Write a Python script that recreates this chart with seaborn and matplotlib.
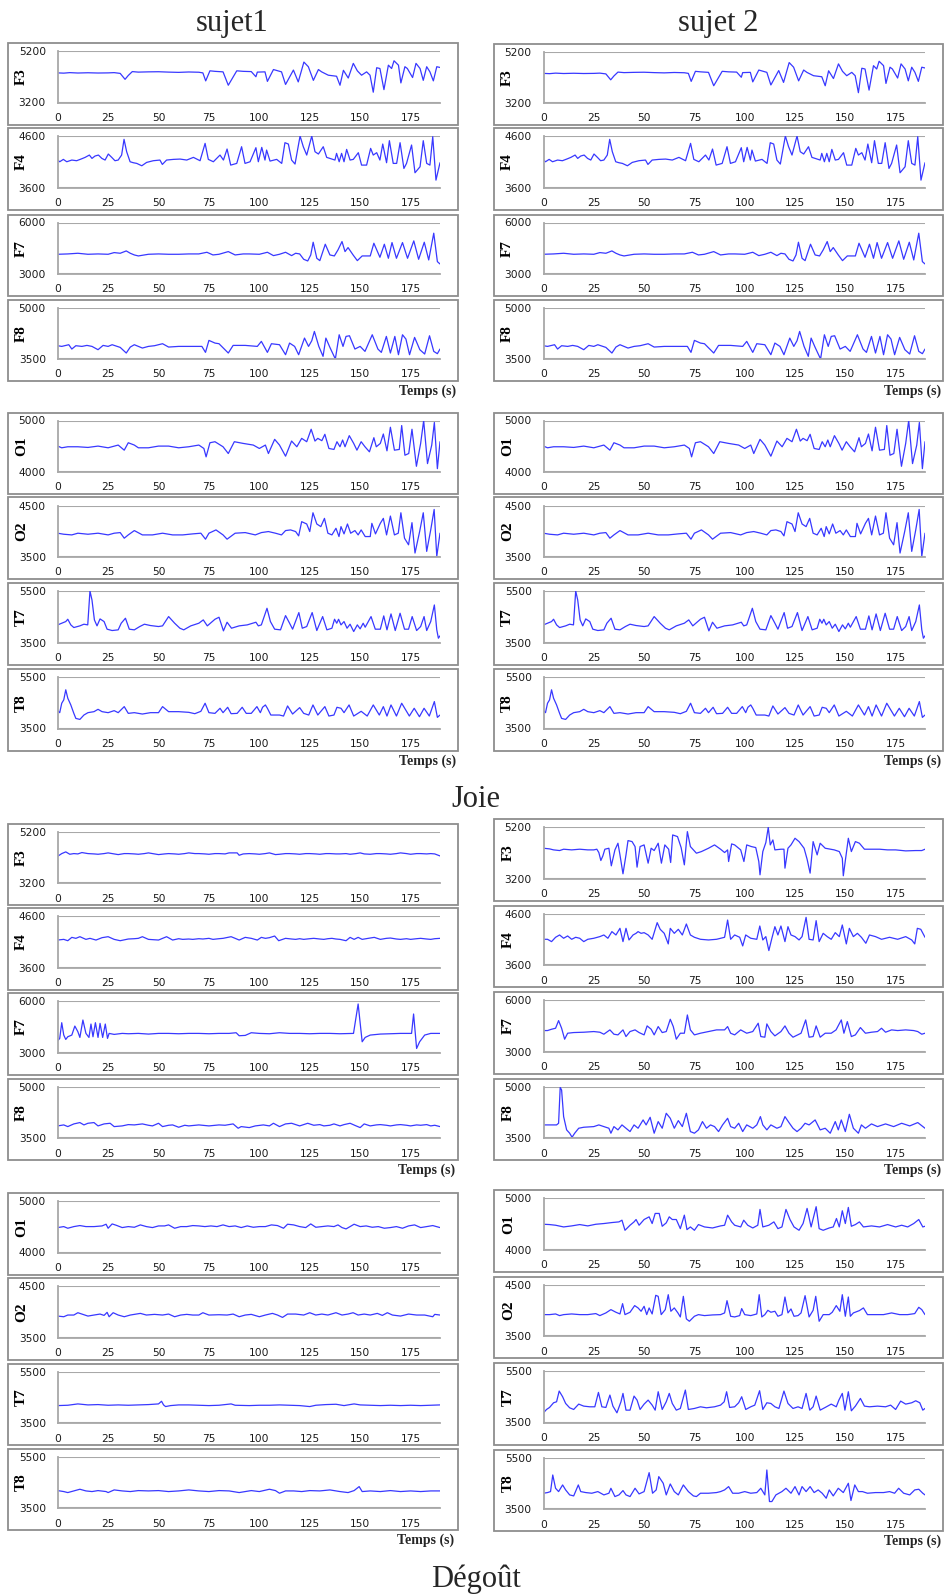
import matplotlib
matplotlib.use("Agg")
import matplotlib.pyplot as plt
from matplotlib.patches import Rectangle
import seaborn as sns

sns.set_style("white")
plt.rcParams["font.family"] = ["DejaVu Sans"]

W, H = 947, 1596
LINE = "#3838ff"
GRAY = "#a8a8a8"
BOX = "#8e8e8e"
TXT = "#1a1a1a"
SERIF = ["Liberation Serif", "DejaVu Serif"]

CHANNELS = ["F3", "F4", "F7", "F8", "O1", "O2", "T7", "T8"]
YLIMS = {"F3": (3200, 5200), "F4": (3600, 4600), "F7": (3000, 6000), "F8": (3500, 5000),
         "O1": (4000, 5000), "O2": (3500, 4500), "T7": (3500, 5500), "T8": (3500, 5500)}
XTICKS = [0, 25, 50, 75, 100, 125, 150, 175]
XMAX = 189.6

# ---- Joie (same traces shown for sujet1 and sujet 2) : (time s, value) ----
joie_f3 = [(0,4350),(3,4340),(6,4360),(10,4345),(15,4355),(20,4345),(25,4350),(28,4360),(31,4330),(33.4,4100),(35,4250),(37,4400),(40,4380),(45,4390),(50,4395),(55,4380),(60,4370),(65,4385),(70,4375),(72,4350),(73.4,4040),(75.5,4430),(78,4410),(82,4390),(84.6,3870),(88.8,4430),(92,4410),(96,4400),(98.3,4200),(99,4380),(102.8,4390),(104,4020),(107,4480),(111,4390),(113,3900),(116.9,4460),(119.3,4000),(122.1,4770),(124.3,4590),(126.8,4060),(129.3,4480),(130.9,4390),(134.2,4260),(138.3,4220),(140,3870),(141.7,4450),(144.1,4150),(146.6,4720),(148.6,4430),(150.7,4260),(153.2,4390),(154.9,4260),(156.5,3600),(158.2,4550),(159.8,4520),(161.8,3700),(164,4650),(165.6,4520),(166.8,4820),(169,4650),(170.2,3960),(172.2,4590),(173.4,4520),(176,4170),(177.7,4720),(179.7,4520),(181.3,4060),(183,4590),(184.6,4390),(186.3,4040),(188,4590),(189.6,4560)]
joie_f4 = [(0,4133),(1,4100),(2.8,4146),(4.5,4100),(7,4133),(9.4,4120),(12,4159),(13.6,4185),(15.7,4230),(17,4165),(18.5,4211),(20.2,4230),(21.9,4165),(23.5,4133),(25.1,4250),(26.8,4185),(28.4,4120),(30,4133),(31.7,4230),(32.9,4535),(34.2,4295),(35.9,4100),(37.5,4081),(39.2,4068),(41.7,4022),(44.1,4087),(47.4,4120),(50.7,4133),(51.9,4048),(54,4133),(57.4,4146),(60.7,4152),(64,4133),(67.3,4185),(70.6,4120),(73.1,4457),(74.7,4146),(77.2,4100),(80.5,4230),(82.2,4133),(84,4347),(85.8,4035),(88.8,4068),(91.2,4392),(92.9,4068),(95.4,4100),(98.3,4373),(99.5,4100),(101.2,4379),(102.8,4133),(103.6,4327),(105.3,4113),(108.6,4146),(111.1,4068),(112.7,4470),(114.4,4444),(116,4133),(117.7,4055),(120.2,4600),(121.8,4392),(123.5,4230),(126,4600),(127.6,4295),(129.3,4250),(131.7,4392),(133.4,4185),(135,4165),(137.5,4133),(138.3,4263),(139.6,4100),(140.8,4263),(142,4100),(143.3,4340),(145,4133),(146.6,4146),(149.1,4276),(150.7,4035),(153.2,4035),(155.2,4360),(156.5,4230),(158.2,4276),(159.8,4133),(161.2,4444),(163.1,4081),(164.5,4509),(166.4,4068),(168.1,4068),(169.8,4470),(171.7,3970),(173,4068),(175.5,4425),(177.2,3886),(179.7,4003),(181.3,4509),(183,4068),(184.6,4035),(186,4587),(187.6,3743),(189.6,4081)]
joie_f7 = [(0,4149),(5,4169),(10,4208),(15,4149),(20,4169),(25,4149),(28,4247),(31,4208),(34,4344),(36,4208),(38,4110),(40,4052),(45,4149),(50,4169),(55,4149),(60,4149),(65,4169),(70,4169),(74,4266),(77,4110),(80,4149),(84.6,4305),(88,4110),(92,4169),(95,4169),(100,4149),(104,4266),(107,4071),(110,4149),(113,4266),(116,4071),(118,4208),(120,4169),(122,3857),(124,3760),(125.5,4110),(126.7,4851),(128.5,3916),(130,3779),(132.7,4734),(135,4110),(137.2,4052),(139,4403),(141,4890),(142.5,4305),(144,4539),(146.5,4110),(148.6,3779),(151,4052),(155,4052),(156.8,4792),(159.8,3974),(162,4734),(164,3916),(165.8,4831),(168,3916),(171,4831),(173.5,3916),(176.6,4929),(179,3857),(181.8,4851),(184,3818),(186.5,5377),(188.3,3721),(189.6,3584)]
joie_f8 = [(0,3887),(2,3867),(5.5,3916),(7,3790),(9,3887),(12,3867),(14.5,3896),(17,3867),(20,3771),(22.5,3896),(25,3867),(27,3916),(31,3838),(34,3674),(36,3848),(38,3916),(42,3819),(45,3867),(48,3887),(52,3945),(55,3848),(60,3867),(65,3867),(71.5,3867),(73.3,3693),(75,4042),(78,3964),(80,3945),(84.6,3674),(87,3896),(93,3896),(99,3867),(101,4013),(104,3693),(106,3945),(110,3916),(113,3625),(115,3964),(117.5,3867),(119.5,3625),(122.4,4109),(124.4,3867),(126,4032),(127.3,4303),(129.5,3867),(131.6,3577),(133,4109),(135,3838),(137.7,3500),(139.6,4206),(141.5,3867),(143,4158),(144.7,4177),(147.4,3790),(150,3867),(152.4,3722),(156,4206),(158.8,3790),(160.5,3693),(163,4158),(165,3674),(167.2,4158),(169,3625),(171,4206),(172.7,4080),(174.5,3625),(177,4129),(179.6,3771),(182,3645),(184.4,4177),(186.5,3722),(188.3,3655),(189.6,3790)]
joie_o1 = [(0,4503),(2,4470),(5,4490),(10,4490),(15,4477),(20,4503),(25,4470),(30,4523),(33,4424),(35,4568),(38,4523),(40,4470),(45,4470),(50,4503),(55,4503),(60,4470),(65,4490),(70,4523),(72.5,4457),(73.6,4294),(75.5,4568),(78,4588),(82,4490),(84.6,4359),(87.6,4588),(92,4555),(97,4523),(100,4457),(103,4523),(104.5,4359),(107.6,4634),(110,4523),(113,4307),(116,4601),(118.6,4490),(121,4653),(123.5,4588),(125.7,4830),(127.6,4601),(129,4653),(131,4608),(132.5,4732),(134.5,4457),(137,4438),(138.5,4588),(140,4490),(141.3,4621),(142.5,4490),(144.6,4706),(146.8,4555),(148.4,4424),(150.5,4588),(152.4,4490),(154.6,4392),(156.8,4666),(158,4490),(160,4555),(161.5,4738),(163.3,4411),(165,4869),(167,4424),(169.4,4438),(170.6,4902),(172.2,4326),(174.1,4359),(175.7,4830),(177.9,4111),(180,4555),(181.5,5000),(183.4,4163),(185.5,4523),(186.8,4961),(188.3,4065),(189.6,4588)]
joie_o2 = [(0,3962),(3,3942),(7,3929),(10,3962),(15,3942),(20,3962),(25,3929),(28,3962),(31,3974),(33,3865),(35,3929),(38,4013),(42,3929),(47,3929),(52,3962),(57,3929),(62,3929),(67,3949),(71,3962),(73.3,3846),(75,3962),(78.5,4026),(82,3929),(84,3846),(88,3962),(93,3974),(98,3929),(101,3974),(104.5,3994),(108,3962),(111,3929),(113,4013),(115.5,4026),(118,3994),(119.5,3910),(121,4186),(123.5,4141),(125,3994),(126.6,4359),(128.5,4141),(130.5,4090),(132.3,4250),(134,3962),(136,3929),(138,4058),(139.5,3897),(140.5,4090),(142,3949),(143.7,4141),(145.3,3962),(147.4,4013),(149,3929),(150.5,4026),(152.5,3897),(155,3897),(155.8,4154),(157.6,3949),(160,4154),(161.5,4250),(163.1,3929),(165,4295),(167,3929),(168.9,3962),(170.2,4359),(172,3865),(174,3737),(175.7,4167),(177.2,3577),(179.5,3994),(181.3,4359),(183,3609),(185,4026),(186.7,4423),(188,3513),(189.6,3962)]
joie_t7 = [(0,4184),(2,4249),(4,4313),(5,4403),(6.5,4184),(8,4081),(11,4146),(13,4210),(14.9,4184),(16,5500),(17,5152),(18.2,4378),(19.5,4146),(21,4416),(23,4313),(24.5,4017),(27,3965),(30,3991),(31.5,4249),(33.6,4442),(35.5,4017),(38,3991),(40.7,4120),(43,4210),(46,4159),(50,4120),(52,4146),(55,4507),(58,4249),(60.6,4055),(62.5,3991),(66,4146),(70,4249),(72.2,4378),(74.2,4146),(78,4403),(80,4481),(82.2,3952),(84,4287),(86.2,4055),(90,4146),(94,4184),(98.3,4287),(99.5,4146),(101,4184),(103.8,4829),(105.5,4313),(107.6,4017),(110.5,3991),(113,4545),(115,4249),(116.5,4017),(119.6,4662),(121.3,4055),(123.5,4120),(126.2,4662),(128.5,3965),(131.4,4507),(133.5,3991),(136,4055),(137.3,4403),(138.4,4249),(139.3,4403),(140.5,4184),(142,4313),(143.5,4055),(145,4210),(146.8,3926),(148.6,4184),(150,4030),(151.5,4249),(152.5,4094),(155.4,4507),(157.5,4017),(160,4017),(161.7,4533),(163.3,3991),(165.3,4610),(167.4,3965),(169.8,4636),(172,4017),(174,4017),(175.8,4507),(178,3965),(180,4120),(181.7,4507),(183,3965),(185,4313),(186.8,4958),(188,3991),(188.8,3668),(189.6,3759)]
joie_t8 = [(0,4193),(1,4115),(2,4481),(3,4611),(4,5003),(5,4677),(6.5,4415),(8,4088),(9,3892),(11,3853),(13,4023),(15,4115),(18,4154),(20,4245),(22,4154),(25,4115),(28,4193),(30,4115),(33,4350),(35,4088),(38,4115),(42,4062),(46,4115),(50,4115),(52,4350),(55,4154),(60,4154),(65,4128),(68,4075),(71,4167),(73.1,4481),(75,4115),(78,4088),(80.5,4285),(82,4115),(84.3,4324),(86,4075),(89,4088),(91.5,4324),(93.5,4088),(96,4088),(98.8,4350),(100.5,4115),(101.6,4324),(103,4415),(104,4285),(105.7,4023),(110,4023),(112,3984),(114,4376),(116.5,4062),(120,4311),(122,4088),(124.5,4023),(126.6,4415),(129,4023),(132.5,4350),(134.5,3984),(137,4023),(138.5,4324),(140.5,4285),(142,4115),(144.5,4415),(146.8,3984),(150.5,4167),(153.5,3984),(156.5,4415),(159.5,4023),(161.5,4350),(163.3,3984),(165.3,4415),(168,3984),(170.6,4481),(173,4167),(174.4,3984),(176.8,4285),(179.4,3958),(181.7,4285),(184.3,3984),(186.8,4546),(188.3,3932),(189.6,4023)]

# ---- Dégoût, sujet1 ----
deg1_f3 = [(0,4246),(2,4350),(4,4416),(6,4324),(8,4350),(10,4337),(12,4390),(15,4350),(18,4337),(20,4324),(23,4350),(25,4377),(28,4337),(30,4311),(33,4350),(35,4350),(38,4337),(40,4324),(43,4350),(45,4377),(48,4337),(50,4311),(53,4337),(55,4350),(58,4337),(60,4324),(63,4350),(65,4377),(68,4350),(70,4350),(73,4337),(75,4324),(78,4350),(80,4350),(83,4337),(85,4377),(89,4377),(90,4285),(92,4337),(95,4350),(98,4337),(100,4324),(103,4350),(105,4377),(108,4311),(110,4324),(113,4350),(115,4350),(118,4337),(120,4324),(123,4350),(125,4350),(128,4337),(130,4324),(133,4350),(135,4350),(138,4337),(140,4337),(143,4350),(145,4324),(148,4350),(150,4377),(152,4337),(155,4324),(158,4350),(160,4350),(163,4337),(165,4324),(168,4350),(170,4377),(173,4350),(175,4324),(178,4350),(180,4350),(183,4337),(185,4350),(187,4337),(189.6,4259)]
deg1_f4 = [(0,4139),(3,4152),(5,4126),(7,4191),(9,4172),(11,4204),(14,4152),(16,4172),(19,4139),(22,4185),(25,4204),(28,4152),(31,4126),(35,4159),(38,4165),(40,4172),(42,4204),(45,4152),(50,4139),(54,4204),(57,4139),(60,4165),(62,4152),(65,4159),(67,4152),(70,4165),(72,4159),(75,4172),(77,4152),(80,4165),(82,4172),(86,4204),(88,4172),(90,4139),(93,4191),(96,4172),(99,4139),(101,4191),(103,4172),(105,4185),(107.6,4217),(109.6,4126),(113,4172),(116,4159),(118,4152),(120,4165),(122,4152),(125,4165),(127,4172),(130,4159),(132,4152),(134,4165),(136,4172),(138,4159),(140,4152),(143,4126),(145,4191),(147,4152),(149,4191),(151,4152),(154,4172),(157,4191),(160,4152),(163,4172),(165,4178),(168,4159),(170,4152),(173,4165),(175,4152),(178,4165),(180,4172),(183,4159),(185,4152),(187,4165),(189.6,4172)]
deg1_f7 = [(0,3701),(1,3838),(2,4753),(3,4033),(4,3779),(5,3935),(7,4033),(8.5,4558),(10,4228),(11,3896),(12.5,4909),(14,4130),(15.5,3896),(16.5,4675),(17.5,3935),(18.7,4753),(20,3896),(21,4714),(22.3,3896),(23.6,4675),(24.7,3838),(25.5,4130),(28,4072),(32,4130),(35,4110),(40,4130),(45,4091),(50,4130),(55,4130),(60,4110),(65,4130),(70,4130),(75,4110),(80,4130),(85,4130),(88.5,4169),(90,3994),(93,4013),(96,4169),(100,4130),(105,4110),(110,4169),(115,4130),(120,4130),(125,4110),(130,4130),(135,4130),(140,4110),(146.7,4130),(148,5104),(149,5844),(151,3643),(152.5,3896),(155,4033),(160,4091),(165,4110),(170,4130),(175.5,4130),(176.5,5260),(178,3253),(179.5,3643),(182,4033),(185,4130),(189.6,4130)]
deg1_f8 = [(0,3858),(3,3887),(5,3838),(8,3916),(11,3955),(13,3887),(15,3935),(18,3955),(20,3858),(23,3916),(26,3935),(28,3838),(32,3858),(35,3896),(38,3887),(42,3916),(45,3877),(47,3858),(50,3935),(52,3838),(55,3877),(57,3887),(60,3819),(63,3877),(65,3858),(70,3887),(75,3858),(80,3887),(83,3877),(87,3916),(89.5,3790),(91,3838),(95,3809),(98,3858),(102,3887),(105,3858),(107,3935),(110,3838),(113,3916),(116,3935),(120,3858),(124,3935),(127,3877),(130,3896),(132,3858),(135,3877),(137,3916),(140,3858),(142,3896),(145,3935),(148,3858),(150,3809),(152,3916),(155,3858),(158,3887),(160,3896),(163,3877),(165,3858),(168,3887),(170,3896),(173,3877),(175,3858),(178,3887),(180,3877),(183,3896),(185,3858),(187,3877),(189.6,3838)]
deg1_o1 = [(0,4484),(3,4503),(5,4471),(8,4503),(11,4523),(14,4503),(18,4503),(22,4516),(24,4549),(25,4471),(27,4555),(29,4529),(32,4484),(35,4503),(38,4490),(41,4536),(44,4503),(47,4484),(50,4516),(53,4516),(55,4536),(58,4471),(61,4503),(64,4503),(67,4523),(70,4516),(73,4503),(76,4516),(79,4503),(82,4536),(85,4503),(88,4516),(91,4484),(94,4516),(97,4490),(100,4503),(103,4503),(106,4536),(109,4523),(112,4471),(114,4549),(117,4536),(120,4503),(123,4484),(125.5,4555),(128,4490),(131,4503),(134,4516),(137,4503),(139,4536),(141,4484),(143,4458),(145,4503),(147,4549),(150,4503),(153,4516),(156,4490),(159,4503),(162,4471),(165,4484),(168,4503),(171,4471),(174,4516),(177,4536),(180,4484),(183,4503),(186,4523),(189.6,4484)]
deg1_o2 = [(0,3922),(3,3909),(5,3942),(8,3942),(10,3987),(12,3961),(15,3922),(18,3942),(21,3961),(23,3935),(24.5,3994),(25.5,3909),(27.5,3987),(30,3942),(33,3909),(36,3942),(41,3974),(44,3942),(48,3955),(52,3942),(55,3961),(58,3909),(61,3942),(64,3955),(67,3942),(70,3942),(72,3987),(75,3942),(80,3948),(84,3942),(87,3961),(90,3909),(93,3942),(96,3955),(100,3909),(103,3942),(106.5,3974),(109,3942),(111.5,3896),(114,3961),(118,3961),(122,3942),(125,3987),(128,3942),(131,3961),(134,3942),(138,3987),(141,3942),(144,3961),(146.5,3987),(149,3942),(152,3961),(155,3942),(158.5,3974),(161,3935),(163.5,3987),(166,3942),(170,3922),(174,3961),(178,3942),(182,3942),(186,3909),(187,3955),(189.6,3942)]
deg1_t7 = [(0,4184),(5,4197),(10,4249),(15,4210),(20,4223),(25,4197),(30,4210),(35,4197),(40,4210),(45,4223),(50,4249),(51.5,4352),(52.5,4210),(53.5,4146),(56,4184),(60,4210),(65,4210),(70,4197),(75,4184),(80,4197),(86,4249),(88,4197),(95,4184),(100,4197),(105,4197),(110,4210),(115,4197),(120,4184),(125,4146),(128,4197),(133,4223),(138,4236),(142,4184),(147,4249),(150,4210),(155,4197),(160,4184),(165,4197),(170,4184),(175,4197),(180,4184),(185,4197),(189.6,4210)]
deg1_t8 = [(0,4184),(3,4146),(5,4107),(8,4171),(11,4236),(14,4171),(17,4146),(20,4184),(24,4146),(25,4107),(28,4210),(32,4171),(36,4146),(40,4184),(45,4171),(50,4184),(55,4146),(60,4171),(65,4210),(70,4171),(75,4146),(80,4184),(85,4171),(90,4107),(93,4146),(96,4184),(100,4146),(105,4236),(108,4184),(110,4081),(113,4171),(117,4171),(121,4146),(125,4184),(130,4171),(135,4210),(140,4146),(144,4107),(147,4184),(149.5,4339),(151,4146),(155,4171),(160,4146),(165,4184),(170,4146),(175,4171),(180,4146),(185,4171),(189.6,4171)]

# ---- Dégoût, sujet 2 ----
deg2_f3 = [(0,4387),(3,4362),(5,4323),(8,4297),(10,4349),(14,4323),(18,4349),(22,4323),(25,4323),(26.5,4349),(27.5,4220),(28.5,3910),(29.5,4091),(30.5,4349),(32.5,4387),(33.7,3704),(35.5,4323),(37,4581),(38,4129),(39.5,3394),(41,4129),(42,4684),(44,4645),(45.5,4452),(46.5,3652),(48,4452),(50,4516),(52,3807),(53.5,4387),(55,4297),(57,4581),(58.6,3807),(60.3,4516),(62.2,4349),(63.2,3833),(64.2,4903),(66.6,4839),(68.4,4413),(70,3742),(71.5,5032),(73,4452),(76,4194),(78.5,4258),(82,4387),(85,4516),(88,4349),(90,4220),(91.5,4323),(92,3871),(93.5,4555),(95,4516),(98,4323),(99.6,3871),(101,4516),(103.3,4452),(105.5,4413),(107,3871),(107.6,3355),(109,4258),(110.5,4607),(111.7,5200),(112.7,4516),(114,4710),(115,4323),(118,4349),(119.5,4349),(120,3613),(121.5,4387),(123,4516),(125,4774),(127,4645),(129.5,4387),(131,3962),(132.5,3420),(134,4645),(136,4129),(137.5,4581),(140,4387),(144.5,4323),(147,4258),(148.5,4000),(149,3317),(150.5,4194),(151.5,4774),(153,4258),(155,4645),(157,4581),(159.5,4349),(163,4349),(167,4349),(171,4323),(175,4323),(180,4284),(185,4297),(188,4297),(189.6,4349)]
deg2_f4 = [(0,4103),(2,4103),(4,4058),(6,4142),(8,4187),(10,4123),(12,4168),(14,4103),(16,4142),(18,4123),(20,4058),(22,4103),(25,4123),(28,4155),(30,4187),(32,4123),(34,4252),(36,4187),(38,4316),(39.5,4058),(41,4316),(42.5,4090),(44.5,4187),(46,4219),(47,4252),(48.5,4219),(50,4232),(52,4187),(54,4103),(56.5,4426),(58,4297),(60,4219),(62,4013),(63,4316),(65,4219),(67,4297),(69,4187),(71,4400),(73,4187),(75,4142),(78,4103),(82,4090),(86,4103),(90,4142),(91.5,4477),(93,4103),(95,4187),(97.5,4142),(99,3974),(100.5,4187),(103,4123),(106,4103),(107.5,4361),(109,4090),(110.5,4155),(112,3884),(113.5,4123),(115,4348),(116.5,4187),(118,4361),(120,4058),(121.5,4348),(123,4187),(125,4155),(127,4090),(128.5,4155),(130.5,4529),(132,4103),(134,4090),(135.5,4465),(137,4058),(139,4219),(141,4155),(143,4103),(145,4232),(147,4155),(148.5,4381),(150.5,4013),(152,4316),(154,4155),(156,4219),(158,4142),(160.2,4026),(162,4187),(165,4155),(168,4103),(172,4142),(176,4103),(180,4155),(183,4090),(184.5,4013),(185.8,4316),(187.5,4297),(189.6,4142)]
deg2_f7 = [(0,4220),(2,4220),(4,4297),(6,4355),(7.5,4800),(9,4355),(10.5,3717),(12,4065),(15,4104),(20,4123),(25,4162),(28,4123),(30,4007),(33,4259),(35,4007),(37,3968),(39.5,4259),(41,3871),(43,4162),(45.5,4259),(47.5,4104),(50,3968),(51.5,4491),(53.5,4297),(55,3968),(57,4452),(59,4104),(61,4162),(63,4878),(64.5,4452),(66,3717),(68,4065),(70,4065),(71.5,5129),(73,4259),(75,3968),(78,4065),(82,4162),(86,4259),(90,4259),(91.5,4452),(93,4065),(95,3968),(98,4259),(101,4065),(104,4162),(106.7,4646),(108,3871),(110,3833),(111,4607),(113,4162),(115,3910),(118,4162),(120,4491),(122,4065),(124,3833),(128,4065),(130.3,4839),(132,3833),(134,3871),(135.5,4491),(137.5,3833),(140,4065),(143,4065),(145.4,4259),(148,4839),(149.3,4065),(151,4742),(153,3871),(155,3968),(157.5,4394),(160,4065),(163,4123),(166,4162),(168,4355),(170,4123),(173,4259),(176,4220),(180,4259),(184,4220),(186,4162),(188,4007),(189.6,4065)]
deg2_f8 = [(0,3887),(3,3887),(6.5,3887),(7.5,3935),(8.3,4981),(9,4903),(10,4129),(11.5,3742),(13,3645),(14.2,3529),(15.5,3645),(17.5,3790),(20,3819),(25,3838),(27.5,3887),(30,3838),(32.5,3790),(33.5,3645),(35,3838),(37,3742),(39,3887),(41,3790),(43,3693),(45,3887),(47,3790),(49.5,4032),(51,3887),(53,4109),(55,3645),(57,3984),(59,3790),(61,4226),(63,4080),(65,3790),(67,4013),(69,3838),(71,4226),(73,3693),(75,3645),(77,3742),(79,3984),(81,3790),(83,3887),(85,3838),(87,3693),(89,3887),(91.5,4080),(93,3838),(95,3790),(97,3935),(99,3693),(101,3887),(104,3790),(106,3887),(107.8,4129),(109,3887),(111,3742),(113,3887),(116,3790),(118,3838),(120,4129),(122,3955),(124,3790),(126,3693),(128,3790),(130,3935),(132,3887),(135,4032),(137.5,3742),(140,3790),(142.5,3645),(145,3984),(146.5,3742),(148,4032),(150,3693),(152,4197),(154,3790),(156.5,3645),(158,3887),(160,3790),(163,3916),(166,3838),(170,3916),(174,3838),(178,3935),(182,3858),(186,3955),(189.6,3790)]
deg2_o1 = [(0,4496),(3,4490),(6,4477),(10,4444),(14,4464),(18,4490),(22,4464),(26,4496),(30,4510),(34,4529),(37.5,4542),(39,4575),(40.5,4379),(43,4477),(45,4542),(46,4588),(47.5,4477),(50,4588),(52.5,4640),(54,4510),(55.5,4706),(57.5,4706),(59,4457),(61,4523),(62.5,4640),(64,4588),(66,4588),(68,4411),(70,4673),(71.3,4392),(73,4444),(75,4379),(77,4490),(80,4444),(84,4424),(88,4464),(90,4477),(91.5,4673),(93.5,4542),(95,4477),(98,4444),(99.5,4575),(101.5,4477),(104,4424),(106.5,4477),(107.6,4784),(109,4444),(112,4477),(114.5,4542),(116.5,4411),(118.5,4444),(120.5,4784),(122.5,4588),(124.5,4444),(127,4379),(129,4510),(131,4804),(133,4444),(135.5,4837),(137,4411),(139,4379),(142,4424),(144,4444),(145.6,4608),(147,4444),(148.5,4758),(150,4510),(151.5,4823),(153,4457),(155,4490),(157,4542),(159,4444),(163,4464),(167,4444),(171,4490),(175,4444),(178,4477),(181,4444),(184,4510),(186.5,4588),(188.5,4444),(189.6,4457)]
deg2_o2 = [(0,3919),(3,3919),(6,3932),(8,3900),(10,3919),(14,3932),(18,3919),(22,3919),(26,3939),(28,3900),(31,3952),(33.5,4016),(36,3965),(38,3932),(39.3,4132),(40.5,3919),(43,3965),(45.3,4094),(47,4049),(48.5,3984),(50,4081),(51.3,3919),(52.5,4049),(54,3932),(55.8,4294),(57,4274),(58.5,3919),(60.5,4016),(62,4306),(63.3,3984),(65,4049),(66.8,3952),(68,3874),(69.5,4274),(71,3836),(72.5,3790),(75,3887),(77,3919),(80,3900),(84,3913),(88,3919),(90,3952),(91.2,4190),(93,3887),(95,3874),(97.5,3900),(98.5,4036),(100,3919),(103,3900),(106,3932),(107.2,4306),(108.5,3874),(110,3919),(111.5,4003),(113,3965),(115,3984),(116.5,3887),(118.5,3919),(120,4261),(121.5,3952),(123,4029),(124.5,3887),(126.5,3900),(128,3952),(130,4287),(132,3874),(134,4003),(135.3,4274),(137,3790),(139,3919),(142,3919),(143.5,3965),(145.5,4094),(147.3,3984),(148.5,4306),(150,3887),(151.5,4261),(152.5,3887),(154,3952),(157,3997),(159,4049),(161,3919),(165,3919),(169,3919),(173,3952),(177,3919),(181,3919),(184.5,3939),(186.5,4061),(188,4016),(189.6,3919)]
deg2_t7 = [(0,3876),(1.5,4006),(3,4084),(5,4266),(6.5,4305),(7.8,4721),(9.5,4500),(11,4240),(13,4071),(15,4006),(17.5,4214),(20,4136),(23,4110),(25.5,4110),(27.3,4669),(29,4110),(31,4084),(33,4565),(34.5,4136),(36.5,3876),(38.5,4305),(39.5,4630),(41,3980),(43,3980),(45,4526),(46.5,4370),(48,4006),(50,4214),(52,4370),(54,4175),(55.5,3980),(57,4695),(59,4006),(61,4305),(62.5,4630),(64,4240),(66,3980),(68,4045),(70.5,4760),(72,4006),(75,4045),(78,4110),(81,4071),(85,4110),(88,4175),(89.8,4305),(91,4695),(92.5,4084),(95,4110),(97,4266),(98.5,4500),(100.5,4006),(103,4110),(105,4175),(107.4,4734),(109,4006),(111,4266),(113,4240),(115,4110),(117,4045),(119.5,4721),(121.5,4240),(124,4045),(126.5,4110),(128.5,4045),(130.5,4630),(132.3,3980),(134,4110),(135.5,4526),(137.5,3980),(140,4084),(143,4214),(145.5,4110),(146.8,4370),(148.5,4630),(149.8,3980),(151.5,4695),(153,3954),(155,4136),(157.5,4435),(159.5,4136),(162,4110),(166,4136),(170,4110),(172.5,4175),(175,4006),(177.5,4331),(180,4214),(183,4266),(185,4344),(187,4266),(188.5,3980),(189.6,4045)]
deg2_t8 = [(0,4120),(2,4146),(3.5,4184),(4.6,4829),(6,4313),(7.5,4184),(9.5,4442),(11,4249),(13,4055),(15,4016),(17.3,4442),(18.5,4184),(21,4146),(24,4120),(27,4184),(28.5,4120),(30,4055),(32.5,4120),(33.5,4313),(35.5,3991),(37.5,4055),(39.5,4223),(41,4055),(43,3991),(45.5,4313),(47.5,4094),(50,4184),(52.5,4920),(54.2,4120),(56,4249),(57.3,4765),(59.5,4507),(61,4055),(63,4481),(65,4184),(67,4055),(69.5,4442),(72,4184),(74.5,4016),(76,3991),(78,4120),(82,4120),(86,4146),(88,4184),(90,4249),(92,4378),(94,4120),(97,4120),(100,4184),(103,4120),(106,4146),(108,4313),(110,4055),(111,5023),(112.3,3797),(113.5,3797),(115.5,4055),(118.5,4184),(120.5,4313),(123,4120),(125,4378),(127,4055),(128.5,4378),(130.5,4184),(132.5,4378),(134.5,4146),(136.5,4249),(138.5,4120),(140.5,3926),(142,4249),(144,4016),(146.5,4313),(149,4146),(151.5,4507),(152.8,3836),(154.7,4442),(156.5,4184),(158.5,4184),(161,4120),(165,4146),(169,4146),(172,4184),(174.5,4120),(176.5,4313),(179,4120),(182,4055),(184.5,4249),(186.5,4275),(188.5,4120),(189.6,4055)]

joie = [joie_f3, joie_f4, joie_f7, joie_f8, joie_o1, joie_o2, joie_t7, joie_t8]
deg1 = [deg1_f3, deg1_f4, deg1_f7, deg1_f8, deg1_o1, deg1_o2, deg1_t7, deg1_t8]
deg2 = [deg2_f3, deg2_f4, deg2_f7, deg2_f8, deg2_o1, deg2_o2, deg2_t7, deg2_t8]

# layout in pixels: plot-area tops per panel, column x spans
PH = 51.5
LEFT_X = (57.7, 440.0)
RIGHT_X = (543.5, 925.0)
BLOCKS = [
    # (series, x span, box x span, tops, y-label centre x)
    (joie, LEFT_X, (8, 458), [51, 136, 222.5, 307.5, 420.5, 505.5, 591, 677], 20),
    (joie, RIGHT_X, (494, 943), [51.5, 136, 222.5, 307.5, 420.5, 505.5, 591, 677], 506),
    (deg1, LEFT_X, (8, 458), [831.7, 916.3, 1001.3, 1086.7, 1201, 1286.3, 1371.7, 1456.7], 20),
    (deg2, RIGHT_X, (494, 943), [827.3, 913.7, 1000, 1086.7, 1198.3, 1284.7, 1371, 1457.7], 507),
]
TEMPS = [(456, 395), (456, 765), (941, 395), (941, 765),
         (455, 1174), (454, 1544), (941, 1174), (941, 1545)]


def px_axes(fig, x0, x1, top, h):
    return fig.add_axes([x0 / W, 1 - (top + h) / H, (x1 - x0) / W, h / H])


def draw_panel(ax, pairs, ch, ylab_x, x0, x1):
    t = [p[0] for p in pairs]
    v = [p[1] for p in pairs]
    sns.lineplot(x=t, y=v, ax=ax, color=LINE, linewidth=0.9,
                 estimator=None, sort=False, legend=False)
    lo, hi = YLIMS[ch]
    ax.set_xlim(0, XMAX)
    ax.set_ylim(lo, hi)
    ax.set_xticks(XTICKS)
    ax.set_yticks([lo, hi])
    ax.set_yticklabels([str(lo), str(hi)])
    for side in ("top", "right"):
        ax.spines[side].set_visible(False)
    for side in ("left", "bottom"):
        ax.spines[side].set_color(GRAY)
        ax.spines[side].set_linewidth(1.3)
    ax.yaxis.grid(True, color=GRAY, linewidth=1.5)
    ax.set_axisbelow(True)
    ax.tick_params(axis="both", direction="out", width=1, color=GRAY,
                   labelsize=7.7, labelcolor=TXT)
    ax.tick_params(axis="x", length=3, pad=4.5)
    ax.tick_params(axis="y", length=4, pad=4.5)
    ax.set_xlabel("")
    ax.set_ylabel(ch, fontfamily=SERIF, fontweight="bold", fontsize=11, color="black")
    ax.yaxis.set_label_coords((ylab_x + 8 - x0) / (x1 - x0), 0.5)


fig = plt.figure(figsize=(W / 100, H / 100), dpi=100)

for series, (x0, x1), (bx0, bx1), tops, ylx in BLOCKS:
    for pairs, ch, top in zip(series, CHANNELS, tops):
        ax = px_axes(fig, x0, x1, top, PH)
        draw_panel(ax, pairs, ch, ylx, x0, x1)
        btop, bbot = top - 8, top + PH + 22
        fig.add_artist(Rectangle((bx0 / W, 1 - bbot / H), (bx1 - bx0) / W, (bbot - btop) / H,
                                 transform=fig.transFigure, fill=False, edgecolor=BOX, linewidth=1.3))

for xr, yb in TEMPS:
    fig.text(xr / W, 1 - yb / H, "Temps (s)", ha="right", va="baseline",
             fontfamily=SERIF, fontweight="bold", fontsize=10)

fig.text(232 / W, 1 - 31 / H, "sujet1", ha="center", va="baseline", fontfamily=SERIF, fontsize=22)
fig.text(718 / W, 1 - 31 / H, "sujet 2", ha="center", va="baseline", fontfamily=SERIF, fontsize=22)
fig.text(476 / W, 1 - 807 / H, "Joie", ha="center", va="baseline", fontfamily=SERIF, fontsize=22)
fig.text(476 / W, 1 - 1587 / H, "Dégoût", ha="center", va="baseline", fontfamily=SERIF, fontsize=22)

fig.savefig("out.png", dpi=100, facecolor="white")
